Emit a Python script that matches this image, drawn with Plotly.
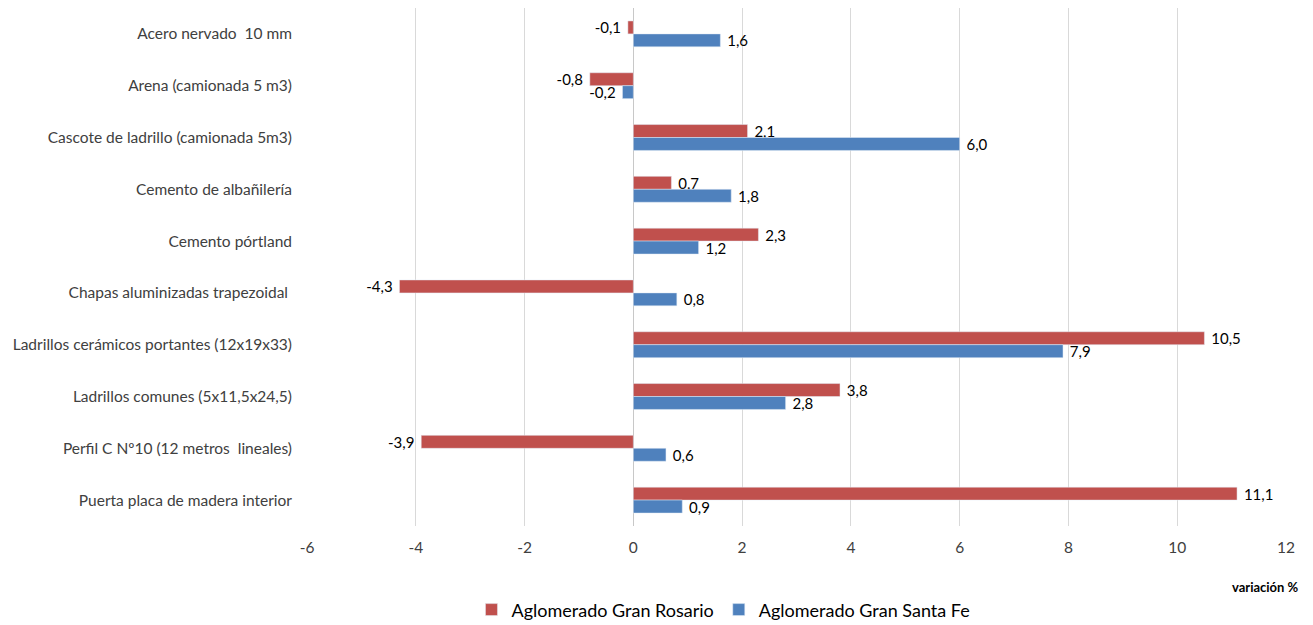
import plotly.graph_objects as go

categories = [
    "Acero nervado  10 mm",
    "Arena (camionada 5 m3)",
    "Cascote de ladrillo (camionada 5m3)",
    "Cemento de albañilería",
    "Cemento pórtland",
    "Chapas aluminizadas trapezoidal ",
    "Ladrillos cerámicos portantes (12x19x33)",
    "Ladrillos comunes (5x11,5x24,5)",
    "Perfil C Nº10 (12 metros  lineales)",
    "Puerta placa de madera interior",
]
rosario = [-0.1, -0.8, 2.1, 0.7, 2.3, -4.3, 10.5, 3.8, -3.9, 11.1]
santa_fe = [1.6, -0.2, 6.0, 1.8, 1.2, 0.8, 7.9, 2.8, 0.6, 0.9]
x_ticks = [-6, -4, -2, 0, 2, 4, 6, 8, 10, 12]

FONT = "Lato, Liberation Sans Narrow, sans-serif"
TXT = "#404040"
NB = "\u00a0"


def fmt(v):
    s = f"{v:.1f}".replace(".", ",")
    return s + NB if v < 0 else NB + s


fig = go.Figure()
for name, vals, col in [
    ("Aglomerado Gran Rosario", rosario, "#C0504D"),
    ("Aglomerado Gran Santa Fe", santa_fe, "#4F81BD"),
]:
    fig.add_trace(go.Bar(
        y=categories, x=vals, orientation="h", name=name,
        marker=dict(color=col),
        text=[fmt(v) for v in vals], textposition="outside",
        constraintext="none",
        textfont=dict(size=15, color="#000000", family=FONT), cliponaxis=False,
    ))

fig.update_layout(
    width=1305, height=617,
    barmode="group", bargap=0.5, bargroupgap=0,
    plot_bgcolor="white", paper_bgcolor="white",
    margin=dict(l=299, r=27, t=0, b=99, autoexpand=False),
    font=dict(family=FONT, size=15.5, color=TXT),
    xaxis=dict(
        range=[-6, 12], tickvals=x_ticks, ticktext=[str(v) for v in x_ticks],
        showgrid=True, gridcolor="#D9D9D9", gridwidth=1,
        zeroline=True, zerolinecolor="#C8C8C8", zerolinewidth=1,
        showline=False, ticks="", ticklabelstandoff=10,
        tickfont=dict(size=15.5, color=TXT), automargin=False,
    ),
    yaxis=dict(
        autorange="reversed", showgrid=False, zeroline=False, showline=False,
        ticks="", ticklabelstandoff=14, tickfont=dict(size=15.5, color=TXT),
        automargin=False,
    ),
    legend=dict(
        orientation="h", x=0.168, xanchor="left", y=-0.162, yanchor="middle",
        font=dict(size=18, color="#000000"), traceorder="normal",
        itemwidth=30,
    ),
    annotations=[dict(
        text="<b>variación %</b>", xref="paper", yref="paper",
        x=1.015, y=-0.118, xanchor="right", yanchor="middle",
        showarrow=False, font=dict(size=13, color="#000000"),
    )],
)

fig.write_html("out.html")
